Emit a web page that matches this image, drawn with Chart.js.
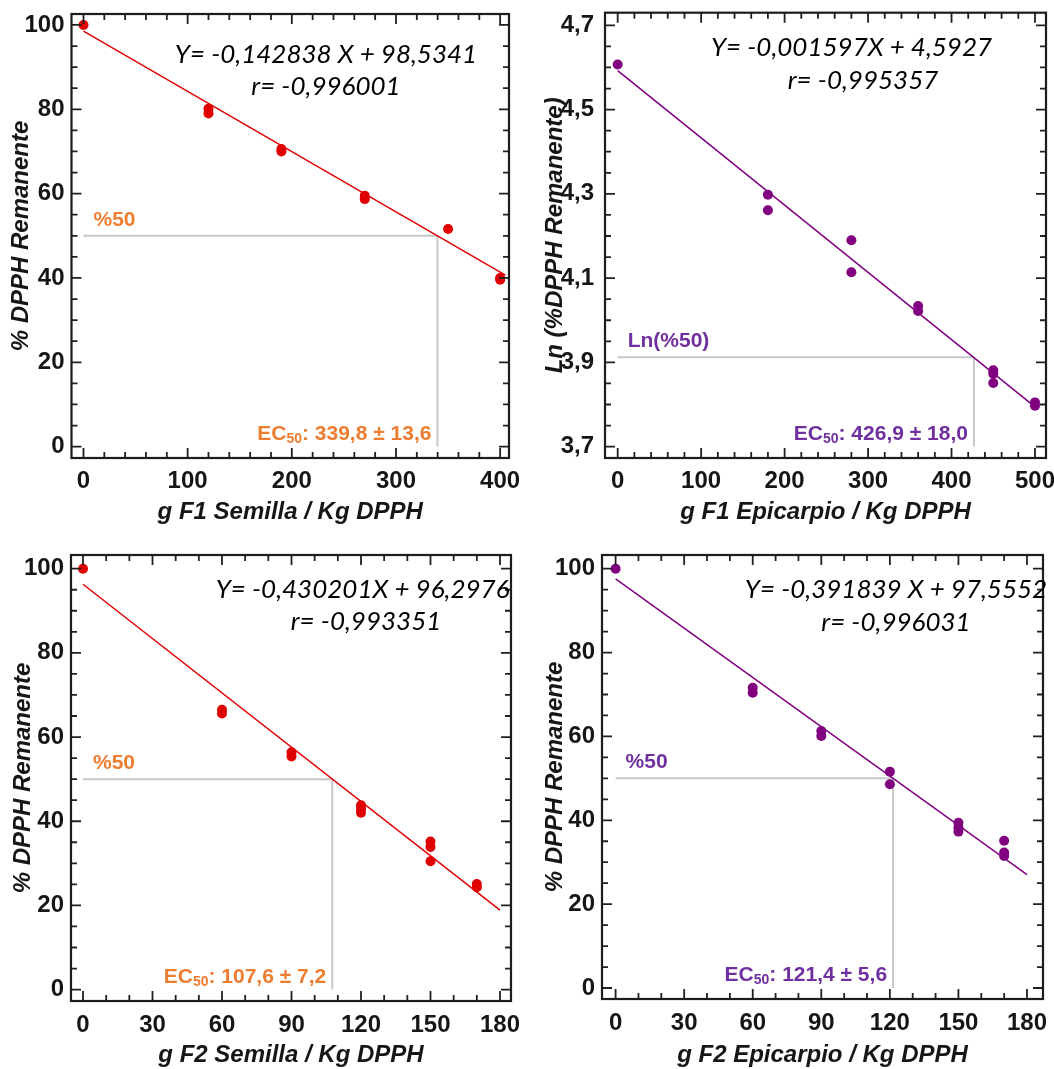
<!DOCTYPE html>
<html>
<head>
<meta charset="utf-8">
<title>DPPH remanente vs dosis</title>
<script src="https://cdn.jsdelivr.net/npm/chart.js@4.4.1/dist/chart.umd.min.js"></script>
<style>
  html, body { margin: 0; padding: 0; background: #ffffff; }
  #wrap { position: relative; width: 1054px; height: 1069px; overflow: hidden; }
  #wrap canvas { position: absolute; }
</style>
</head>
<body>
<div id="wrap">
  <canvas id="c1"></canvas>
  <canvas id="c2"></canvas>
  <canvas id="c3"></canvas>
  <canvas id="c4"></canvas>
</div>
<script>
// ---------- measured data ----------
const f1SemillaDose = [0, 120, 120, 190, 190, 270, 270, 350, 400, 400];
const f1SemillaRemaining = [100, 80.1, 79.0, 70.6, 70.0, 59.5, 58.7, 51.6, 40.0, 39.6];

const f1EpicarpioDose = [0, 180, 180, 280, 280, 360, 360, 450, 450, 450, 500, 500];
const f1EpicarpioLnRemaining = [4.607, 4.298, 4.261, 4.190, 4.114, 4.034, 4.022, 3.881, 3.873, 3.851, 3.805, 3.797];

const f2SemillaDose = [0, 60, 60, 90, 90, 120, 120, 120, 150, 150, 150, 170, 170];
const f2SemillaRemaining = [100, 66.5, 65.6, 56.4, 55.4, 43.8, 42.9, 42.0, 35.2, 33.9, 30.5, 25.1, 24.3];

const f2EpicarpioDose = [0, 60, 60, 90, 90, 120, 120, 150, 150, 150, 170, 170, 170];
const f2EpicarpioRemaining = [100, 71.6, 70.4, 61.3, 60.1, 51.6, 48.6, 39.4, 38.3, 37.3, 35.1, 32.3, 31.5];

// linear regressions (slope, intercept, correlation) and fitted x-extent
const fitSlope = [-0.142838, -0.001597, -0.430201, -0.391839];
const fitIntercept = [98.5341, 4.5927, 96.2976, 97.5552];
const fitR = [-0.996001, -0.995357, -0.993351, -0.996031];
const fitXEnd = [405, 503, 180, 180];

// EC50 and its uncertainty; 50 % level (Ln(50) on the log panel)
const ec50 = [339.8, 426.9, 107.6, 121.4];
const ec50Err = [13.6, 18.0, 7.2, 5.6];
const halfLevel = [50, 3.912, 50, 50];
const halfLabel = ['%50', 'Ln(%50)', '%50', '%50'];
const floorLevel = [0, 3.7, 0, 0];

// tick labels
const pctTicks = [0, 20, 40, 60, 80, 100];
const lnTicks = [3.7, 3.9, 4.1, 4.3, 4.5, 4.7];
const f1SemillaTicks = [0, 100, 200, 300, 400];
const f1EpicarpioTicks = [0, 100, 200, 300, 400, 500];
const f2Ticks = [0, 30, 60, 90, 120, 150, 180];

// axis titles
const xTitles = ['g F1 Semilla / Kg DPPH', 'g F1 Epicarpio / Kg DPPH', 'g F2 Semilla / Kg DPPH', 'g F2 Epicarpio / Kg DPPH'];
const yTitles = ['% DPPH Remanente', 'Ln (%DPPH Remanente)', '% DPPH Remanente', '% DPPH Remanente'];

// ---------- styling ----------
const RED = '#e00000';
const PURPLE = '#800080';
const ORANGE_TXT = '#ed7d31';
const PURPLE_TXT = '#7030a0';
const INK = '#161616';
const GRAY = '#c8c8c8';
const SANS = '"Liberation Sans", Arial, sans-serif';
const EQ_FONT = 'Lato, "Open Sans", sans-serif';

const comma = (v) => String(v).replace('.', ',');
const fmtFixed = (v, d) => v.toFixed(d).replace('.', ',');

// ---------- panel layout ----------
const panels = [
  {
    canvas: 'c1', box: { left: 0, top: 0, width: 527, height: 537 },
    frame: { left: 71.5, top: 14, right: 509, bottom: 458 },
    xRange: [-11.5, 408.5], yRange: [-2.7, 102.6],
    xTicks: f1SemillaTicks, yTicks: pctTicks, yDec: 0, xMinor: 20, yMinor: 5,
    xs: f1SemillaDose, ys: f1SemillaRemaining, color: RED, labelColor: ORANGE_TXT,
    xSep: ' ', yTickPad: 7, xTickPad: 9, yTitlePad: 6.6, xTitlePad: 13,
    eq: { cx: 326, by: 62.5 }, rq: { cx: 326, by: 94.7 }
  },
  {
    canvas: 'c2', box: { left: 527, top: 0, width: 527, height: 537 },
    frame: { left: 605, top: 12.7, right: 1046, bottom: 458 },
    xRange: [-15.2, 513.2], yRange: [3.673, 4.730],
    xTicks: f1EpicarpioTicks, yTicks: lnTicks, yDec: 1, xMinor: 20, yMinor: 0.05,
    xs: f1EpicarpioDose, ys: f1EpicarpioLnRemaining, color: PURPLE, labelColor: PURPLE_TXT,
    xSep: '', yTickPad: 11, xTickPad: 9, yTitlePad: 14.3, xTitlePad: 13,
    eq: { cx: 851.5, by: 55.8 }, rq: { cx: 863, by: 88.6 }
  },
  {
    canvas: 'c3', box: { left: 0, top: 537, width: 527, height: 532 },
    frame: { left: 71, top: 555, right: 511, bottom: 1001 },
    xRange: [-5.18, 184.75], yRange: [-2.71, 103.25],
    xTicks: f2Ticks, yTicks: pctTicks, yDec: 0, xMinor: 10, yMinor: 5,
    xs: f2SemillaDose, ys: f2SemillaRemaining, color: RED, labelColor: ORANGE_TXT,
    xSep: '', yTickPad: 7, xTickPad: 10, yTitlePad: 9.3, xTitlePad: 1.5,
    eq: { cx: 362.6, by: 597.5 }, rq: { cx: 366, by: 629.6 }
  },
  {
    canvas: 'c4', box: { left: 527, top: 537, width: 527, height: 532 },
    frame: { left: 602, top: 555, right: 1043, bottom: 999 },
    xRange: [-5.95, 187.0], yRange: [-2.62, 103.27],
    xTicks: f2Ticks, yTicks: pctTicks, yDec: 0, xMinor: 10, yMinor: 5,
    xs: f2EpicarpioDose, ys: f2EpicarpioRemaining, color: PURPLE, labelColor: PURPLE_TXT,
    xSep: ' ', yTickPad: 7, xTickPad: 10, yTitlePad: 13.5, xTitlePad: 1.5,
    eq: { cx: 896, by: 597.5 }, rq: { cx: 896, by: 631.3 }
  }
];

// closed frame with inward major/minor tick marks on all four sides
const frameTicks = {
  id: 'frameTicks',
  afterDatasetsDraw(chart) {
    const cfg = chart.options.plugins.frameTicks;
    const { ctx, chartArea: a, scales: { x, y } } = chart;
    const MAJ = 10, MIN = 6;
    ctx.save();
    ctx.strokeStyle = '#202020';
    ctx.lineWidth = 1.8;
    ctx.lineCap = 'butt';
    const within = (v, s) => v >= s.min - 1e-9 && v <= s.max + 1e-9;
    const minorVals = (s, step, majors) => {
      const out = [];
      const k0 = Math.ceil(s.min / step), k1 = Math.floor(s.max / step);
      for (let k = k0; k <= k1; k++) {
        const v = Math.round(k * step * 1e6) / 1e6;
        if (!majors.some(m => Math.abs(m - v) < step / 100)) out.push(v);
      }
      return out;
    };
    const drawX = (vals, len) => {
      vals.forEach(v => {
        if (!within(v, x)) return;
        const px = x.getPixelForValue(v);
        ctx.beginPath();
        ctx.moveTo(px, a.bottom); ctx.lineTo(px, a.bottom - len);
        ctx.moveTo(px, a.top); ctx.lineTo(px, a.top + len);
        ctx.stroke();
      });
    };
    const drawY = (vals, len) => {
      vals.forEach(v => {
        if (!within(v, y)) return;
        const py = y.getPixelForValue(v);
        ctx.beginPath();
        ctx.moveTo(a.left, py); ctx.lineTo(a.left + len, py);
        ctx.moveTo(a.right, py); ctx.lineTo(a.right - len, py);
        ctx.stroke();
      });
    };
    drawX(cfg.xTicks, MAJ);
    drawX(minorVals(x, cfg.xMinor, cfg.xTicks), MIN);
    drawY(cfg.yTicks, MAJ);
    drawY(minorVals(y, cfg.yMinor, cfg.yTicks), MIN);
    ctx.lineWidth = 2.2;
    ctx.strokeStyle = '#1c1c1c';
    ctx.strokeRect(a.left, a.top, a.right - a.left, a.bottom - a.top);
    ctx.restore();
  }
};

// regression equation, 50 % label and EC50 label
const annotations = {
  id: 'annotations',
  afterDraw(chart) {
    const c = chart.options.plugins.annotations;
    const { ctx, scales: { x, y } } = chart;
    ctx.save();
    // equation and correlation coefficient
    ctx.fillStyle = '#000000';
    ctx.font = 'italic 26px ' + EQ_FONT;
    ctx.textAlign = 'center';
    ctx.textBaseline = 'alphabetic';
    ctx.fillText(c.eqText, c.eq.cx, c.eq.by);
    ctx.fillText(c.rText, c.rq.cx, c.rq.by);

    // 50 % level label
    ctx.fillStyle = c.labelColor;
    ctx.textAlign = 'left';
    ctx.font = 'bold 21px ' + SANS;
    ctx.fillText(c.halfText, x.getPixelForValue(0) + 10, y.getPixelForValue(c.half) - 10);

    // EC50 label, right-aligned against the vertical guide
    const main = 'bold 21px ' + SANS, sub = 'bold 14px ' + SANS;
    const t1 = 'EC', t2 = '50', t3 = ': ' + c.ecText;
    ctx.font = main; const w1 = ctx.measureText(t1).width, w3 = ctx.measureText(t3).width;
    ctx.font = sub; const w2 = ctx.measureText(t2).width;
    let tx = x.getPixelForValue(c.ec) - 6 - (w1 + w2 + w3);
    const by = y.getPixelForValue(c.floor) - 7;
    ctx.font = main; ctx.fillText(t1, tx, by); tx += w1;
    ctx.font = sub; ctx.fillText(t2, tx, by + 3); tx += w2;
    ctx.font = main; ctx.fillText(t3, tx, by);
    ctx.restore();
  }
};

function build() {
  panels.forEach((p, i) => {
    const cv = document.getElementById(p.canvas);
    cv.width = p.box.width; cv.height = p.box.height;
    cv.style.left = p.box.left + 'px'; cv.style.top = p.box.top + 'px';
    cv.style.width = p.box.width + 'px'; cv.style.height = p.box.height + 'px';

    const yAxisWidth = p.frame.left - p.box.left;
    const xAxisHeight = p.box.top + p.box.height - p.frame.bottom;
    const padTop = p.frame.top - p.box.top;
    const padRight = p.box.left + p.box.width - p.frame.right;

    const points = p.xs.map((v, k) => ({ x: v, y: p.ys[k] }));
    const fit = [0, fitXEnd[i]].map(v => ({ x: v, y: fitIntercept[i] + fitSlope[i] * v }));
    const guide = [
      { x: 0, y: halfLevel[i] },
      { x: ec50[i], y: halfLevel[i] },
      { x: ec50[i], y: floorLevel[i] }
    ];

    new Chart(cv, {
      type: 'scatter',
      data: {
        datasets: [
          { type: 'scatter', data: points, order: 0, pointRadius: 5, pointHoverRadius: 5,
            pointBackgroundColor: p.color, pointBorderColor: p.color, pointBorderWidth: 0 },
          { type: 'line', data: fit, order: 1, borderColor: p.color, borderWidth: 1.5,
            pointRadius: 0, fill: false, tension: 0 },
          { type: 'line', data: guide, order: 2, borderColor: GRAY, borderWidth: 2,
            pointRadius: 0, fill: false, tension: 0 }
        ]
      },
      options: {
        responsive: false,
        animation: false,
        devicePixelRatio: 1,
        layout: { padding: { left: 0, top: padTop, right: padRight, bottom: 0 } },
        plugins: {
          legend: { display: false },
          tooltip: { enabled: false },
          frameTicks: { xTicks: p.xTicks, yTicks: p.yTicks, xMinor: p.xMinor, yMinor: p.yMinor },
          annotations: {
            eqText: 'Y= ' + comma(fitSlope[i]) + p.xSep + 'X + ' + comma(fitIntercept[i]),
            rText: 'r= ' + comma(fitR[i]),
            eq: { cx: p.eq.cx - p.box.left, by: p.eq.by - p.box.top },
            rq: { cx: p.rq.cx - p.box.left, by: p.rq.by - p.box.top },
            labelColor: p.labelColor,
            halfText: halfLabel[i], half: halfLevel[i], floor: floorLevel[i],
            ec: ec50[i], ecText: fmtFixed(ec50[i], 1) + ' \u00b1 ' + fmtFixed(ec50Err[i], 1)
          }
        },
        scales: {
          x: {
            type: 'linear', position: 'bottom',
            min: p.xRange[0], max: p.xRange[1],
            afterBuildTicks: s => { s.ticks = p.xTicks.map(v => ({ value: v })); },
            afterFit: s => { s.height = xAxisHeight; s.paddingLeft = 0; s.paddingRight = 0; },
            grid: { display: false, drawTicks: false },
            border: { display: false },
            ticks: {
              autoSkip: false, maxRotation: 0, padding: p.xTickPad, color: INK,
              font: { family: SANS, size: 24, weight: 'bold' },
              callback: v => fmtFixed(v, 0)
            },
            title: {
              display: true, text: xTitles[i], color: INK,
              font: { family: SANS, size: 24, weight: 'bold', style: 'italic', lineHeight: 1 },
              padding: { top: 0, bottom: p.xTitlePad }
            }
          },
          y: {
            type: 'linear', position: 'left',
            min: p.yRange[0], max: p.yRange[1],
            afterBuildTicks: s => { s.ticks = p.yTicks.map(v => ({ value: v })); },
            afterFit: s => { s.width = yAxisWidth; s.paddingTop = 0; s.paddingBottom = 0; },
            grid: { display: false, drawTicks: false },
            border: { display: false },
            ticks: {
              autoSkip: false, padding: p.yTickPad, color: INK,
              font: { family: SANS, size: 24, weight: 'bold' },
              callback: v => fmtFixed(v, p.yDec)
            },
            title: {
              display: true, text: yTitles[i], color: INK,
              font: { family: SANS, size: 24, weight: 'bold', style: 'italic', lineHeight: 1.2 },
              padding: { top: p.yTitlePad, bottom: 0 }
            }
          }
        }
      },
      plugins: [frameTicks, annotations]
    });
  });
}

const fontsReady = document.fonts && document.fonts.load
  ? Promise.all([
      document.fonts.load('bold 24px "Liberation Sans"'),
      document.fonts.load('bold italic 24px "Liberation Sans"'),
      document.fonts.load('italic 26px Lato')
    ]).catch(() => null)
  : Promise.resolve();
fontsReady.then(build);
</script>
</body>
</html>
